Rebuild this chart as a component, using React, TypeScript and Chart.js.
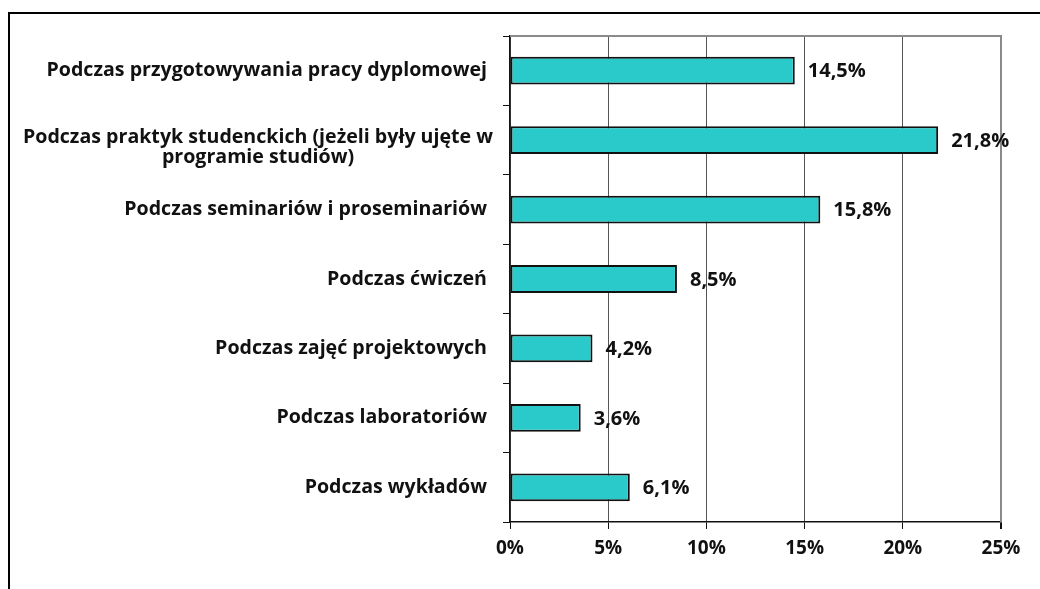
import React, { useEffect, useRef } from "react";
import { Chart, registerables } from "chart.js";

Chart.register(...registerables);

const categories: (string | string[])[] = [
  "Podczas przygotowywania pracy dyplomowej",
  ["Podczas praktyk studenckich (jeżeli były ujęte w", "programie studiów)"],
  "Podczas seminariów i proseminariów",
  "Podczas ćwiczeń",
  "Podczas zajęć projektowych",
  "Podczas laboratoriów",
  "Podczas wykładów",
];
const values: number[] = [14.5, 21.8, 15.8, 8.5, 4.2, 3.6, 6.1];
const valueLabels: string[] = ["14,5%", "21,8%", "15,8%", "8,5%", "4,2%", "3,6%", "6,1%"];
const xTicks: number[] = [0, 5, 10, 15, 20, 25];

const FONT = "'Open Sans', 'DejaVu Sans', sans-serif";
const LABEL_SIZE = 19.6;
const VALUE_SIZE = 20;
const TICK_SIZE = 19;

export default function App() {
  const ref = useRef<HTMLCanvasElement | null>(null);

  useEffect(() => {
    if (!ref.current) return;

    const plotFrame = {
      id: "plotFrame",
      beforeDatasetsDraw(chart: any) {
        const { ctx, chartArea } = chart;
        ctx.save();
        ctx.strokeStyle = "#8a8a8a";
        ctx.lineWidth = 2;
        ctx.beginPath();
        ctx.moveTo(chartArea.left, chartArea.top);
        ctx.lineTo(chartArea.right, chartArea.top);
        ctx.lineTo(chartArea.right, chartArea.bottom);
        ctx.stroke();
        ctx.restore();
      },
    };

    const valueLabelsPlugin = {
      id: "valueLabels",
      afterDatasetsDraw(chart: any) {
        const { ctx } = chart;
        const meta = chart.getDatasetMeta(0);
        ctx.save();
        ctx.font = `bold ${VALUE_SIZE}px ${FONT}`;
        ctx.fillStyle = "#111";
        ctx.textBaseline = "middle";
        ctx.textAlign = "left";
        meta.data.forEach((bar: any, i: number) => {
          ctx.fillText(valueLabels[i], bar.x + 13, bar.y + 1);
        });
        ctx.restore();
      },
    };

    const multiLabels = {
      id: "multiLabels",
      afterDraw(chart: any) {
        const { ctx } = chart;
        const y = chart.scales.y;
        const right = y.right - 7 - 16 + 6;
        ctx.save();
        ctx.font = `bold ${LABEL_SIZE}px ${FONT}`;
        ctx.fillStyle = "#111";
        ctx.textBaseline = "middle";
        ctx.textAlign = "center";
        categories.forEach((c, i) => {
          if (!Array.isArray(c)) return;
          const widths = c.map((l) => ctx.measureText(l).width);
          const w = Math.max(...widths);
          const cx = right - w / 2;
          const cy = y.getPixelForValue(i) + 7;
          const lh = 20;
          c.forEach((line, k) => {
            ctx.fillText(line, cx, cy + (k - (c.length - 1) / 2) * lh);
          });
        });
        ctx.restore();
      },
    };

    const chart = new Chart(ref.current, {
      type: "bar",
      data: {
        labels: categories as any,
        datasets: [
          {
            data: values,
            backgroundColor: "#2acaca",
            borderColor: "#111",
            borderWidth: 2,
            borderSkipped: false,
            barPercentage: 0.4,
            categoryPercentage: 1,
          },
        ],
      },
      options: {
        indexAxis: "y",
        responsive: false,
        animation: false,
        layout: { padding: { top: 36, right: 39, left: 0, bottom: 0 } },
        plugins: {
          legend: { display: false },
          tooltip: { enabled: false },
        },
        scales: {
          x: {
            min: 0,
            max: 25,
            afterBuildTicks(scale: any) {
              scale.ticks = xTicks.map((v) => ({ value: v }));
            },
            afterFit(scale: any) {
              scale.height = 67;
            },
            grid: {
              color: (c: any) => (c.index === 5 ? "#8a8a8a" : "#555"),
              lineWidth: (c: any) => (c.index === 5 ? 2 : 1),
              drawTicks: true,
              tickLength: 7,
              tickColor: "#111",
            },
            border: { display: true, color: "#111", width: 1.5 },
            ticks: {
              padding: 8,
              color: "#111",
              font: { family: FONT, size: TICK_SIZE, weight: "bold" },
              callback: (v: any) => `${v}%`,
            },
          },
          y: {
            afterFit(scale: any) {
              scale.width = 510;
            },
            grid: {
              offset: true,
              drawOnChartArea: false,
              drawTicks: true,
              tickLength: 7,
              tickColor: "#111",
            },
            border: { display: true, color: "#111", width: 1.5 },
            ticks: {
              padding: 16,
              color: "#111",
              font: { family: FONT, size: LABEL_SIZE, weight: "bold" },
              callback: (_v: any, i: number) => (Array.isArray(categories[i]) ? "" : (categories[i] as string)),
            },
          },
        },
      },
      plugins: [plotFrame, valueLabelsPlugin, multiLabels],
    });

    return () => chart.destroy();
  }, []);

  return (
    <div style={{ position: "fixed", left: 0, top: 0, width: 1040, height: 589, background: "#fff", overflow: "hidden" }}>
      <div
        style={{
          position: "absolute",
          left: 8,
          top: 12,
          width: 1100,
          height: 700,
          borderTop: "2px solid #000",
          borderLeft: "2px solid #000",
        }}
      />
      <canvas ref={ref} width={1040} height={589} style={{ position: "absolute", left: 0, top: 0 }} />
    </div>
  );
}
